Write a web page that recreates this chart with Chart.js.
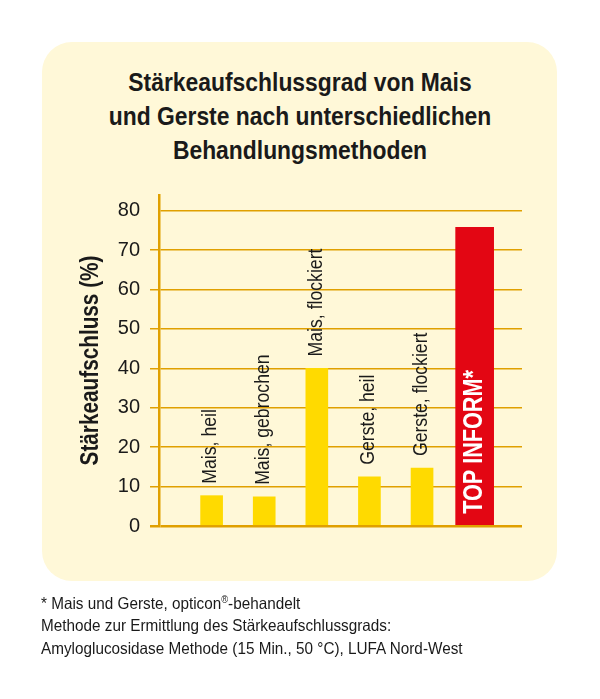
<!DOCTYPE html>
<html>
<head>
<meta charset="utf-8">
<script src="https://cdn.jsdelivr.net/npm/chart.js@4.4.1/dist/chart.umd.min.js"></script>
<style>
  html, body { margin:0; padding:0; background:#ffffff; }
  #wrap { position:relative; width:600px; height:699px; overflow:hidden; }
  #card { position:absolute; left:42px; top:42px; width:515px; height:539px; border-radius:30px; background:#FFF8D8; }
  #title { position:absolute; left:0; top:65px; width:600px; text-align:center; color:#1a1a1a;
           font-family:"Liberation Sans",Arial,sans-serif; font-weight:bold; font-size:25px; line-height:34px;
           transform:scaleX(0.915); transform-origin:300px 0; }
  #foot { position:absolute; left:41px; top:592px; color:#1a1a1a;
          font-family:"Liberation Sans",Arial,sans-serif; font-size:16.5px; line-height:22.3px; white-space:nowrap;
          transform:scaleX(0.927); transform-origin:0 0; }
  #foot sup { font-size:10px; line-height:0; vertical-align:6px; }
  canvas { position:absolute; left:0; top:0; }
</style>
</head>
<body>
<div id="wrap">
  <div id="card"></div>
  <div id="title">Stärkeaufschlussgrad von Mais<br>und Gerste nach unterschiedlichen<br>Behandlungsmethoden</div>
  <canvas id="c" width="600" height="699"></canvas>
  <div id="foot">* Mais und Gerste, opticon<sup>®</sup>-behandelt<br>Methode zur Ermittlung des Stärkeaufschlussgrads:<br>Amyloglucosidase Methode (15 Min., 50 °C), LUFA Nord-West</div>
</div>
<script>
const categories = ['Mais, heil', 'Mais, gebrochen', 'Mais, flockiert', 'Gerste, heil', 'Gerste, flockiert'];
const values = [7.7, 7.4, 40, 12.5, 14.7];
const highlightLabel = 'TOP INFORM*';
const highlightValue = 75.8;
const yTicks = [0, 10, 20, 30, 40, 50, 60, 70, 80];
const yTitle = 'Stärkeaufschluss (%)';

const FAMILY = '"Liberation Sans",Arial,sans-serif';
const GOLD = '#E0A000';
const INK = '#1a1a1a';

function rotatedText(ctx, text, x, y, font, color, align, squeeze) {
  ctx.save();
  ctx.translate(x, y);
  ctx.rotate(-Math.PI / 2);
  ctx.scale(squeeze, 1);
  ctx.font = font;
  ctx.fillStyle = color;
  ctx.textAlign = align;
  ctx.textBaseline = 'middle';
  ctx.fillText(text, 0, 0);
  ctx.restore();
}

const barLabels = {
  id: 'barLabels',
  afterDatasetsDraw(chart) {
    const ctx = chart.ctx;
    chart.getDatasetMeta(0).data.forEach((bar, i) => {
      rotatedText(ctx, categories[i], bar.x - 1, bar.y - 12, '21px ' + FAMILY, INK, 'left', 0.84);
    });
    const rb = chart.getDatasetMeta(1).data[0];
    rotatedText(ctx, highlightLabel, rb.x, rb.base - 11, 'bold 27px ' + FAMILY, '#ffffff', 'left', 0.8);
    const a = chart.chartArea;
    rotatedText(ctx, yTitle, 91, (a.top + a.bottom) / 2, 'bold 25px ' + FAMILY, INK, 'center', 0.83);
  }
};

new Chart(document.getElementById('c'), {
  type: 'bar',
  data: {
    datasets: [
      {
        data: categories.map((c, i) => ({ x: i + 1, y: values[i] })),
        backgroundColor: '#FFDA00',
        barThickness: 22,
        grouped: false
      },
      {
        data: [{ x: categories.length + 1, y: highlightValue }],
        backgroundColor: '#E30613',
        barThickness: 38,
        grouped: false
      }
    ]
  },
  options: {
    responsive: false,
    animation: false,
    layout: { padding: { left: 40, right: 78, top: 195, bottom: 173 } },
    plugins: { legend: { display: false }, tooltip: { enabled: false }, title: { display: false } },
    scales: {
      x: { type: 'linear', min: 0, max: 6.9, offset: false, display: false },
      y: {
        min: 0, max: 84,
        afterBuildTicks(s) { s.ticks = yTicks.map(v => ({ value: v })); },
        afterFit(s) { s.width = 119; },
        ticks: { font: { family: FAMILY, size: 20 }, color: INK, padding: 10 },
        grid: {
          color: GOLD,
          lineWidth: ctx => (ctx.tick && ctx.tick.value === 0) ? 2.5 : 1.5,
          tickLength: 9,
          tickColor: ctx => (ctx.tick && ctx.tick.value === 80) ? 'rgba(0,0,0,0)' : GOLD,
          tickWidth: ctx => (ctx.tick && ctx.tick.value === 0) ? 2.5 : 1.5
        },
        border: { display: true, color: GOLD, width: 2.5 },
        title: { display: false }
      }
    }
  },
  plugins: [barLabels]
});
</script>
</body>
</html>
